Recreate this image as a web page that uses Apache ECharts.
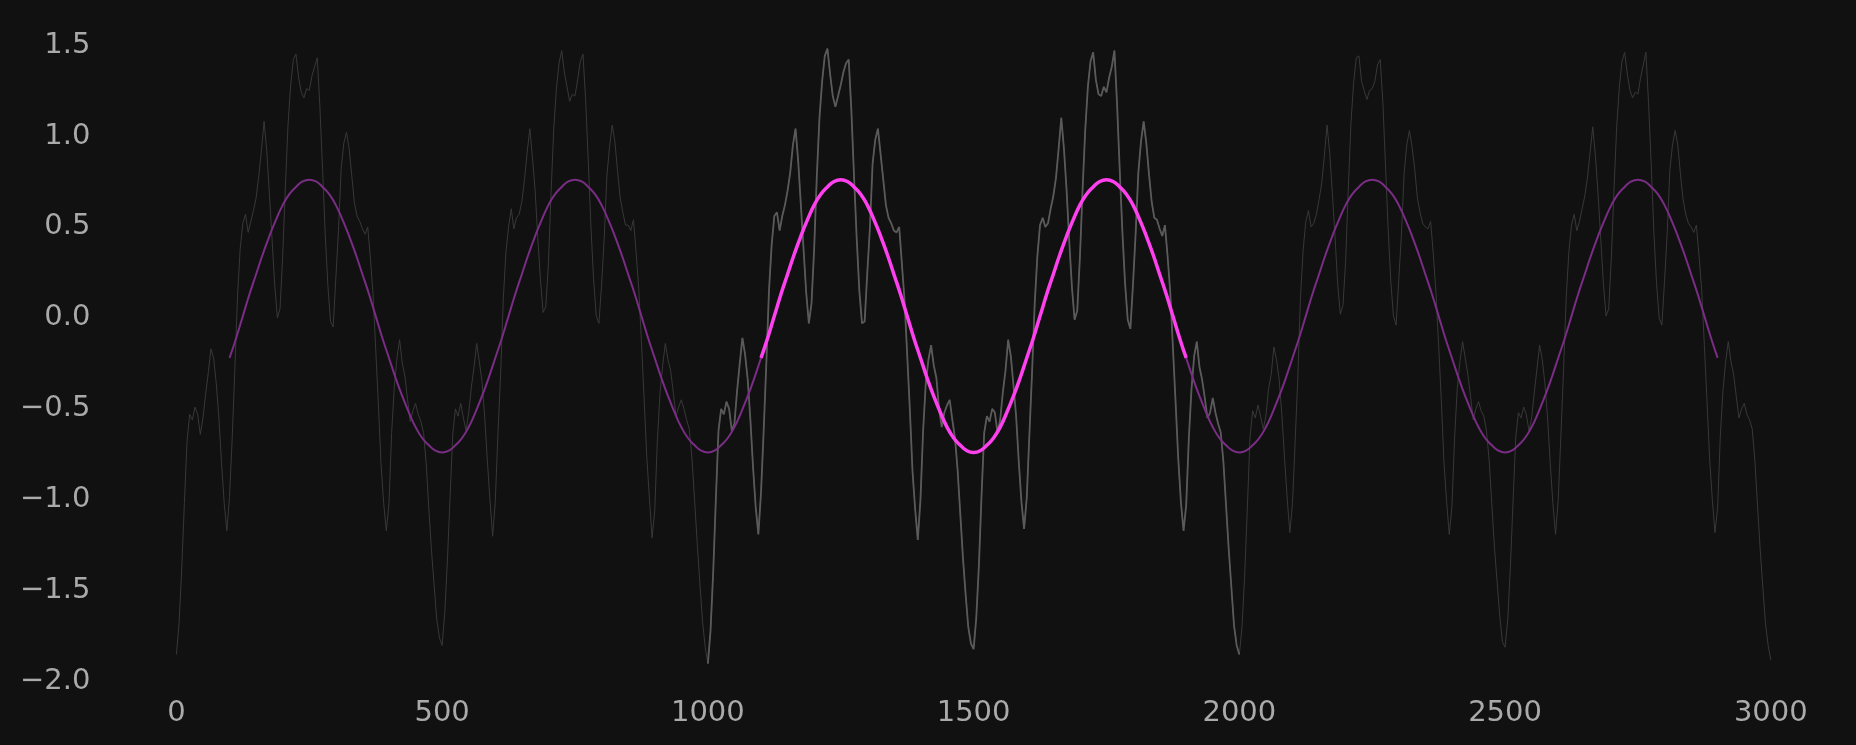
<!DOCTYPE html>
<html>
<head>
<meta charset="utf-8">
<script src="https://cdn.jsdelivr.net/npm/echarts@6/dist/echarts.min.js"></script>
<style>
html,body{margin:0;padding:0;background:#111111;}
#chart{width:1856px;height:745px;}
</style>
</head>
<body>
<div id="chart"></div>
<script>
const SIGNAL_STEP = 5;
const sigP0 = [-1.85,-1.68,-1.38,-1.02,-0.68,-0.53,-0.56,-0.49,-0.53,-0.64,
  -0.55,-0.42,-0.30,-0.17,-0.22,-0.36,-0.55,-0.80,-1.02,-1.17,
  -0.98,-0.66,-0.28,0.12,0.38,0.52,0.57,0.47,0.53,0.59,
  0.66,0.78,0.92,1.08,0.92,0.68,0.43,0.18,0.00,0.05,
  0.34,0.72,1.06,1.28,1.42,1.45,1.32,1.24,1.21,1.26,
  1.25,1.33,1.38,1.43,1.16,0.82,0.46,0.18,-0.02,-0.05,
  0.22,0.48,0.82,0.96,1.02,0.93,0.78,0.63,0.56,0.53,
  0.49,0.46,0.50,0.33,0.13,-0.17,-0.47,-0.80,-1.02,-1.17,
  -1.02,-0.63,-0.38,-0.22,-0.12,-0.25,-0.32,-0.45,-0.57,-0.51,
  -0.47,-0.53,-0.57,-0.63,-0.80,-1.05,-1.28,-1.47,-1.66,-1.76];
const sigP1 = [-1.80,-1.62,-1.33,-0.98,-0.64,-0.50,-0.54,-0.47,-0.55,-0.62,
  -0.52,-0.38,-0.27,-0.14,-0.24,-0.35,-0.54,-0.78,-1.00,-1.20,
  -1.01,-0.64,-0.31,0.10,0.36,0.50,0.60,0.49,0.55,0.57,
  0.64,0.76,0.91,1.04,0.88,0.70,0.44,0.21,0.03,0.06,
  0.30,0.69,1.04,1.26,1.40,1.47,1.35,1.27,1.19,1.23,
  1.22,1.31,1.41,1.45,1.20,0.86,0.50,0.21,0.01,-0.03,
  0.18,0.44,0.78,0.94,1.06,0.97,0.81,0.66,0.58,0.51,
  0.51,0.48,0.54,0.36,0.16,-0.13,-0.44,-0.76,-0.99,-1.21,
  -1.06,-0.67,-0.41,-0.26,-0.14,-0.23,-0.29,-0.41,-0.54,-0.49,
  -0.45,-0.50,-0.56,-0.61,-0.77,-1.00,-1.24,-1.46,-1.67,-1.81];
const sigP2 = [-1.90,-1.72,-1.40,-1.00,-0.62,-0.50,-0.53,-0.46,-0.50,-0.62,
  -0.58,-0.40,-0.25,-0.11,-0.20,-0.34,-0.56,-0.82,-1.04,-1.19,
  -0.96,-0.62,-0.25,0.15,0.40,0.56,0.58,0.48,0.56,0.62,
  0.70,0.80,0.95,1.04,0.86,0.62,0.38,0.14,-0.03,0.08,
  0.38,0.78,1.10,1.30,1.44,1.48,1.34,1.22,1.16,1.22,
  1.28,1.35,1.40,1.42,1.14,0.78,0.44,0.15,-0.03,-0.02,
  0.25,0.50,0.85,0.98,1.04,0.90,0.76,0.62,0.55,0.52,
  0.48,0.47,0.50,0.30,0.10,-0.20,-0.50,-0.84,-1.05,-1.22,
  -1.00,-0.62,-0.36,-0.23,-0.15,-0.26,-0.33,-0.50,-0.60,-0.52,
  -0.48,-0.45,-0.56,-0.66,-0.84,-1.08,-1.32,-1.52,-1.70,-1.79];
const sigP3 = [-1.82,-1.65,-1.36,-0.97,-0.63,-0.54,-0.57,-0.50,-0.52,-0.63,
  -0.56,-0.41,-0.29,-0.12,-0.21,-0.37,-0.54,-0.79,-1.01,-1.16,
  -0.99,-0.64,-0.30,0.08,0.34,0.51,0.55,0.50,0.52,0.60,
  0.67,0.77,0.93,1.10,0.93,0.70,0.42,0.17,-0.01,0.04,
  0.33,0.70,1.03,1.27,1.41,1.46,1.31,1.23,1.22,1.27,
  1.24,1.32,1.38,1.47,1.17,0.81,0.47,0.19,-0.01,-0.06,
  0.19,0.47,0.80,0.97,1.08,0.96,0.79,0.64,0.55,0.54,
  0.49,0.45,0.51,0.34,0.14,-0.16,-0.46,-0.77,-1.01,-1.17,
  -1.03,-0.66,-0.39,-0.21,-0.13,-0.27,-0.34,-0.44,-0.55,-0.52,
  -0.44,-0.52,-0.58,-0.63,-0.79,-1.03,-1.27,-1.48,-1.69,-1.80];
const sigP4 = [-1.85,-1.70,-1.42,-1.05,-0.66,-0.51,-0.55,-0.48,-0.54,-0.61,
  -0.54,-0.39,-0.31,-0.16,-0.23,-0.34,-0.53,-0.77,-0.99,-1.18,
  -1.02,-0.68,-0.33,0.11,0.37,0.53,0.59,0.50,0.52,0.57,
  0.65,0.74,0.89,1.06,0.91,0.69,0.45,0.19,0.02,0.07,
  0.31,0.71,1.07,1.29,1.43,1.44,1.30,1.25,1.20,1.25,
  1.26,1.30,1.39,1.42,1.19,0.84,0.49,0.20,0.01,-0.04,
  0.21,0.46,0.79,0.95,1.03,0.94,0.82,0.66,0.58,0.52,
  0.50,0.49,0.53,0.35,0.14,-0.15,-0.45,-0.79,-1.01,-1.19,
  -1.04,-0.66,-0.39,-0.24,-0.13,-0.22,-0.31,-0.43,-0.56,-0.50,
  -0.46,-0.51,-0.54,-0.62,-0.78,-1.02,-1.26,-1.45,-1.64,-1.78];
const sigP5 = [-1.81,-1.66,-1.37,-1.01,-0.66,-0.52,-0.55,-0.49,-0.53,-0.62,
  -0.55,-0.41,-0.28,-0.15,-0.23,-0.36,-0.55,-0.80,-1.02,-1.19,
  -1.00,-0.65,-0.29,0.11,0.36,0.51,0.57,0.48,0.53,0.60,
  0.67,0.77,0.91,1.05,0.89,0.68,0.44,0.19,0.01,0.05,
  0.33,0.71,1.05,1.27,1.41,1.46,1.34,1.25,1.21,1.24,
  1.23,1.32,1.39,1.46,1.18,0.84,0.47,0.19,0.00,-0.04,
  0.20,0.46,0.81,0.95,1.03,0.95,0.79,0.65,0.57,0.52,
  0.50,0.47,0.51,0.34,0.15,-0.15,-0.46,-0.78,-1.00,-1.18,
  -1.04,-0.65,-0.40,-0.24,-0.13,-0.24,-0.31,-0.43,-0.55,-0.50,
  -0.47,-0.53,-0.56,-0.61,-0.78,-1.03,-1.27,-1.48,-1.68,-1.80];
const sigEnd = [-1.88];

const FIT_START = 100, FIT_STEP = 12.5;
const fitC0 = [-0.22,-0.11,0.01,0.13,0.24,0.35,0.45,0.54,0.62,0.68,0.72,0.75,0.76,0.75,0.72,0.68,0.62,0.54,0.45,0.35,
  0.24,0.13,0.01,-0.11,-0.22,-0.33,-0.43,-0.52,-0.60,-0.66,-0.70,-0.73,-0.74,-0.73,-0.70,-0.66,-0.60,-0.52,-0.43,-0.33];
const fitC1 = [-0.22,-0.11,0.01,0.13,0.24,0.35,0.45,0.54,0.62,0.68,0.72,0.75,0.76,0.75,0.72,0.68,0.62,0.54,0.45,0.35,
  0.24,0.13,0.01,-0.11,-0.22,-0.33,-0.43,-0.52,-0.60,-0.66,-0.70,-0.73,-0.74,-0.73,-0.70,-0.66,-0.60,-0.52,-0.43,-0.33];
const fitC2 = [-0.22,-0.11,0.01,0.13,0.24,0.35,0.45,0.54,0.62,0.68,0.72,0.75,0.76,0.75,0.72,0.68,0.62,0.54,0.45,0.35,
  0.24,0.13,0.01,-0.11,-0.22,-0.33,-0.43,-0.52,-0.60,-0.66,-0.70,-0.73,-0.74,-0.73,-0.70,-0.66,-0.60,-0.52,-0.43,-0.33];
const fitC3 = [-0.22,-0.11,0.01,0.13,0.24,0.35,0.45,0.54,0.62,0.68,0.72,0.75,0.76,0.75,0.72,0.68,0.62,0.54,0.45,0.35,
  0.24,0.13,0.01,-0.11,-0.22,-0.33,-0.43,-0.52,-0.60,-0.66,-0.70,-0.73,-0.74,-0.73,-0.70,-0.66,-0.60,-0.52,-0.43,-0.33];
const fitC4 = [-0.22,-0.11,0.01,0.13,0.24,0.35,0.45,0.54,0.62,0.68,0.72,0.75,0.76,0.75,0.72,0.68,0.62,0.54,0.45,0.35,
  0.24,0.13,0.01,-0.11,-0.22,-0.33,-0.43,-0.52,-0.60,-0.66,-0.70,-0.73,-0.74,-0.73,-0.70,-0.66,-0.60,-0.52,-0.43,-0.33];
const fitC5 = [-0.22,-0.11,0.01,0.13,0.24,0.35,0.45,0.54,0.62,0.68,0.72,0.75,0.76,0.75,0.72,0.68,0.62,0.54,0.45,0.35,
  0.24,0.13,0.01,-0.11,-0.22];

// Highlight windows
const sigHighlight = [1000, 2000];
const fitHighlight = [1100, 1900];

// Axis ticks
const xTicks = [0, 500, 1000, 1500, 2000, 2500, 3000];
const yTicks = [-2.0, -1.5, -1.0, -0.5, 0.0, 0.5, 1.0, 1.5];

const signal = [].concat(sigP0, sigP1, sigP2, sigP3, sigP4, sigP5, sigEnd)
  .map((v, i) => [i * SIGNAL_STEP, v]);
const fit = [].concat(fitC0, fitC1, fitC2, fitC3, fitC4, fitC5)
  .map((v, i) => [FIT_START + i * FIT_STEP, v]);
const sigHi = signal.filter(p => p[0] >= sigHighlight[0] && p[0] <= sigHighlight[1]);
const fitHi = fit.filter(p => p[0] >= fitHighlight[0] && p[0] <= fitHighlight[1]);

const chart = echarts.init(document.getElementById('chart'), null, {renderer: 'canvas'});
const labelStyle = {color: '#aaaaaa', fontSize: 29, fontFamily: 'DejaVu Sans'};
chart.setOption({
  backgroundColor: '#111111',
  animation: false,
  grid: {left: 176.4, right: 85.2, top: 45, bottom: 63.2, containLabel: false},
  xAxis: {
    type: 'value', min: xTicks[0], max: xTicks[xTicks.length - 1], interval: 500,
    axisLine: {show: false}, axisTick: {show: false}, splitLine: {show: false},
    axisLabel: Object.assign({margin: 17, formatter: v => String(v)}, labelStyle)
  },
  yAxis: {
    type: 'value', min: yTicks[0], max: yTicks[yTicks.length - 1], interval: 0.5,
    axisLine: {show: false}, axisTick: {show: false}, splitLine: {show: false},
    axisLabel: Object.assign({margin: 86, formatter: v => (v < 0 ? '\u2212' : '') + Math.abs(v).toFixed(1)}, labelStyle)
  },
  series: [
    {type: 'line', data: signal, symbol: 'none', lineStyle: {color: '#383838', width: 1}, z: 1},
    {type: 'line', data: sigHi, symbol: 'none', lineStyle: {color: '#5a5a5a', width: 1.8}, z: 2},
    {type: 'line', data: fit, symbol: 'none', smooth: true, lineStyle: {color: '#7a2d85', width: 2}, z: 3},
    {type: 'line', data: fitHi, symbol: 'none', smooth: true, lineStyle: {color: '#ff40ee', width: 3.5}, z: 4}
  ]
});
</script>
</body>
</html>
